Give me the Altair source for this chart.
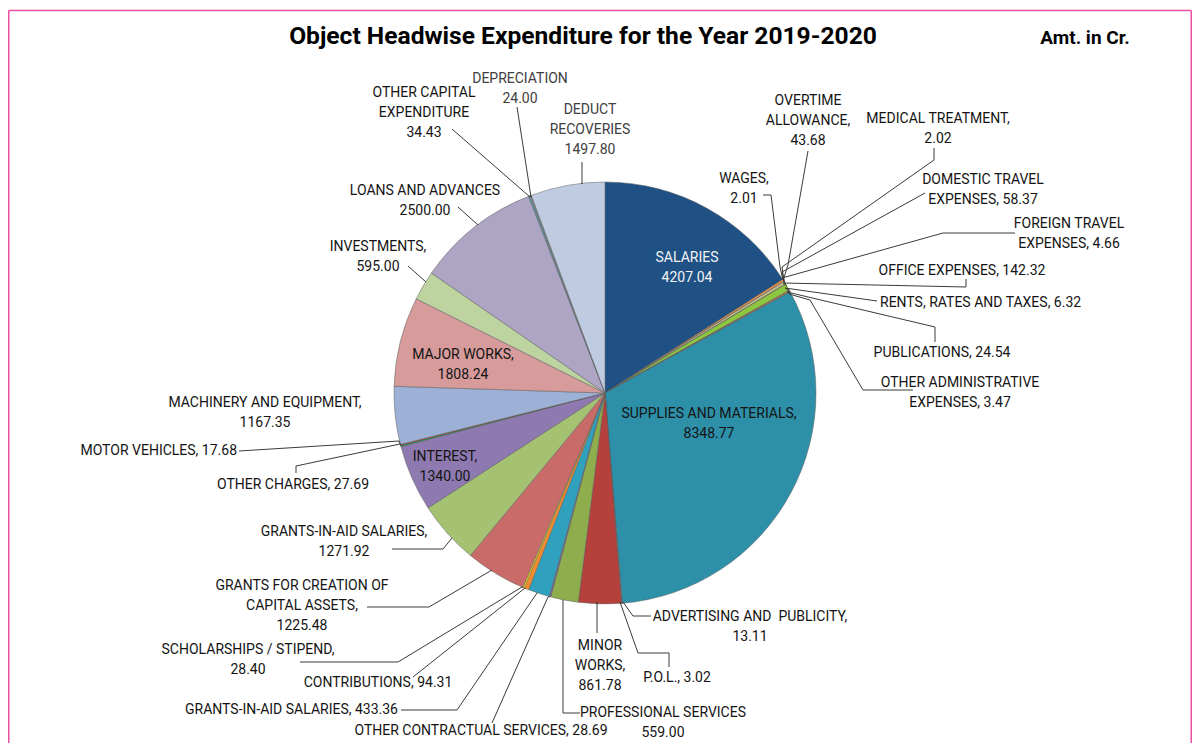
import altair as alt
import pandas as pd

# ---------------- data ----------------
categories = [
    "SALARIES", "WAGES", "OVERTIME ALLOWANCE", "MEDICAL TREATMENT",
    "DOMESTIC TRAVEL EXPENSES", "FOREIGN TRAVEL EXPENSES", "OFFICE EXPENSES",
    "RENTS, RATES AND TAXES", "PUBLICATIONS", "OTHER ADMINISTRATIVE EXPENSES",
    "SUPPLIES AND MATERIALS", "ADVERTISING AND PUBLICITY", "P.O.L.", "MINOR WORKS",
    "PROFESSIONAL SERVICES", "OTHER CONTRACTUAL SERVICES", "GRANTS-IN-AID SALARIES",
    "CONTRIBUTIONS", "SCHOLARSHIPS / STIPEND", "GRANTS FOR CREATION OF CAPITAL ASSETS",
    "GRANTS-IN-AID SALARIES", "INTEREST", "OTHER CHARGES", "MOTOR VEHICLES",
    "MACHINERY AND EQUIPMENT", "MAJOR WORKS", "INVESTMENTS", "LOANS AND ADVANCES",
    "OTHER CAPITAL EXPENDITURE", "DEPRECIATION", "DEDUCT RECOVERIES",
]
values = [
    4207.04, 2.01, 43.68, 2.02, 58.37, 4.66, 142.32, 6.32, 24.54, 3.47,
    8348.77, 13.11, 3.02, 861.78, 559.00, 28.69, 433.36, 94.31, 28.40, 1225.48,
    1271.92, 1340.00, 27.69, 17.68, 1167.35, 1808.24, 595.00, 2500.00, 34.43,
    24.00, 1497.80,
]
colors = [
    "#1F5185", "#D99694", "#F79646", "#A5A5A5", "#C3BE8A", "#7F7F3F", "#8DC63F",
    "#4F81BD", "#F0803C", "#BFBFBF", "#2D8FA8", "#F79646", "#1A1A1A", "#B5403C",
    "#8EAD4C", "#7C5FA4", "#2FA0BE", "#F28C30", "#FFFF00", "#C96B69", "#A5C272",
    "#8E7AB0", "#00A04A", "#FF0000", "#9CB1D5", "#D69B9A", "#BDD3A0", "#ADA5C3",
    "#5B9BAE", "#8C8C8C", "#BFCBE1",
]
label_templates = [
    ["SALARIES", "{v}"], ["WAGES,", "{v}"], ["OVERTIME", "ALLOWANCE,", "{v}"],
    ["MEDICAL TREATMENT,", "{v}"], ["DOMESTIC TRAVEL", "EXPENSES, {v}"],
    ["FOREIGN TRAVEL", "EXPENSES, {v}"], ["OFFICE EXPENSES, {v}"],
    ["RENTS, RATES AND TAXES, {v}"], ["PUBLICATIONS, {v}"],
    ["OTHER ADMINISTRATIVE", "EXPENSES, {v}"], ["SUPPLIES AND MATERIALS,", "{v}"],
    ["ADVERTISING AND\u00a0 PUBLICITY,", "{v}"], ["P.O.L., {v}"],
    ["MINOR", "WORKS,", "{v}"], ["PROFESSIONAL SERVICES", "{v}"],
    ["OTHER CONTRACTUAL SERVICES, {v}"], ["GRANTS-IN-AID SALARIES, {v}"],
    ["CONTRIBUTIONS, {v}"], ["SCHOLARSHIPS / STIPEND,", "{v}"],
    ["GRANTS FOR CREATION OF", "CAPITAL ASSETS,", "{v}"],
    ["GRANTS-IN-AID SALARIES,", "{v}"], ["INTEREST,", "{v}"],
    ["OTHER CHARGES, {v}"], ["MOTOR VEHICLES, {v}"],
    ["MACHINERY AND EQUIPMENT,", "{v}"], ["MAJOR WORKS,", "{v}"],
    ["INVESTMENTS,", "{v}"], ["LOANS AND ADVANCES", "{v}"],
    ["OTHER CAPITAL", "EXPENDITURE", "{v}"], ["DEPRECIATION", "{v}"],
    ["DEDUCT", "RECOVERIES", "{v}"],
]
title_text = "Object Headwise Expenditure for the Year 2019-2020"
unit_text = "Amt. in Cr."

# ---------------- layout (page pixels) ----------------
PAGE = 8
W, H = 1184, 735
CX, CY, R = 605 - PAGE, 393 - PAGE, 211
LINE_H = 20

# first-line centre of each label, alignment
label_pos = [
    (687, 258, "center"), (744, 179, "center"), (808, 101, "center"),
    (938, 119, "center"), (983, 180, "center"), (1069, 224, "center"),
    (962, 271, "center"), (880, 303, "left"), (942, 353, "center"),
    (960, 383, "center"), (709, 414, "center"), (750, 617, "center"),
    (677, 678, "center"), (600, 646, "center"), (663, 713, "center"),
    (481, 731, "center"), (398, 710, "right"), (378, 683, "center"),
    (248, 650, "center"), (302, 586, "center"), (344, 532, "center"),
    (445, 457, "center"), (293, 485, "center"), (237, 451, "right"),
    (265, 403, "center"), (463, 355, "center"), (378, 247, "center"),
    (425, 191, "center"), (424, 93, "center"), (520, 79, "center"),
    (590, 110, "center"),
]
label_colors = ["#F2F2F2"] + ["#141414"] * 28 + ["#404040", "#404040"]

# leader lines: points from the pie rim outwards (page pixels)
leaders = {
    1: [(780, 267), (771, 195), (763, 195)],
    2: [(788, 265), (808, 151)],
    3: [(782, 267), (934, 160), (934, 148)],
    4: [(782, 272), (925, 193)],
    5: [(782, 278), (943, 233), (1015, 233)],
    6: [(783, 283), (966, 287), (966, 279)],
    7: [(785, 288), (877, 301)],
    8: [(787, 292), (935, 327), (935, 342)],
    9: [(789, 294), (810, 300), (863, 390), (913, 390)],
    11: [(623, 602), (633, 616), (651, 616)],
    12: [(620, 602), (638, 653), (669, 653), (669, 667)],
    13: [(597, 602), (597, 633)],
    14: [(563, 600), (563, 713), (580, 713)],
    15: [(548, 597), (492, 723)],
    16: [(537, 593), (457, 710), (401, 710)],
    17: [(525, 588), (413, 677)],
    18: [(522, 587), (398, 662), (300, 662)],
    19: [(492, 570), (429, 607), (367, 607)],
    20: [(452, 538), (443, 549), (392, 549)],
    22: [(400, 444), (296, 466), (296, 473)],
    23: [(399, 441), (239, 451)],
    26: [(426, 282), (408, 266)],
    27: [(478, 225), (458, 207)],
    28: [(530, 197), (452, 129)],
    29: [(531, 197), (517, 107)],
    30: [(582, 184), (582, 162)],
}

# ---------------- tables ----------------
n = len(values)
slices = pd.DataFrame({
    "idx": list(range(n)),
    "category": categories,
    "value": values,
    "color": colors,
    "pax": [leaders[i][0][0] - PAGE if i in leaders else None for i in range(n)],
    "pay": [leaders[i][0][1] - PAGE if i in leaders else None for i in range(n)],
})

seg_rows = []
for i, pts in leaders.items():
    for a, b in zip(pts[:-1], pts[1:]):
        seg_rows.append({"x": a[0] - PAGE, "y": a[1] - PAGE,
                         "x2": b[0] - PAGE, "y2": b[1] - PAGE})
segments = pd.DataFrame(seg_rows)

text_rows = []
for i in range(n):
    x, y, align = label_pos[i]
    for k, t in enumerate(label_templates[i]):
        text_rows.append({"text": t.format(v=f"{values[i]:.2f}"),
                          "x": x - PAGE, "y": y - PAGE + k * LINE_H,
                          "align": align, "tcolor": label_colors[i]})
texts = pd.DataFrame(text_rows)

titles = pd.DataFrame([
    {"text": title_text, "x": 583 - PAGE, "y": 37 - PAGE, "size": 24.6},
    {"text": unit_text, "x": 1085 - PAGE, "y": 38 - PAGE, "size": 19},
])

border = pd.DataFrame([
    {"x": 0.75, "y": 2.5, "x2": 0.75, "y2": H},
    {"x": 0.75, "y": 2.5, "x2": W - 0.75, "y2": 2.5},
    {"x": W - 0.75, "y": 2.5, "x2": W - 0.75, "y2": H},
])

# ---------------- chart ----------------
FONT = "Roboto"

pie = alt.Chart(slices).mark_arc(
    outerRadius=R, stroke="#5f5f5f", strokeWidth=0.5
).encode(
    theta=alt.Theta("value:Q", stack=True),
    color=alt.Color("color:N", scale=None),
    order=alt.Order("idx:Q", sort="ascending"),
    x=alt.value(CX),
    y=alt.value(CY),
    tooltip=["category:N", "value:Q"],
)

rim = alt.Chart(slices).transform_joinaggregate(
    total="sum(value)"
).transform_window(
    cum="sum(value)", sort=[alt.SortField("idx", order="ascending")], frame=[None, 0]
).transform_filter(
    "isValid(datum.pax)"
).transform_calculate(
    a1="2*PI*datum.cum/datum.total",
    a0="2*PI*(datum.cum-datum.value)/datum.total",
).transform_calculate(
    m="min(0.3*(datum.a1-datum.a0), 0.02)",
    pa=f"atan2(datum.pax - {CX}, {CY} - datum.pay)",
).transform_calculate(
    pa2="datum.pa < 0 ? datum.pa + 2*PI : datum.pa",
).transform_calculate(
    ang="clamp(datum.pa2, datum.a0 + datum.m, datum.a1 - datum.m)",
).transform_calculate(
    rx=f"{CX} + {R}*sin(datum.ang)",
    ry=f"{CY} - {R}*cos(datum.ang)",
).mark_rule(color="#3a3a3a", strokeWidth=1).encode(
    x=alt.X("rx:Q", scale=None, axis=None),
    y=alt.Y("ry:Q", scale=None, axis=None),
    x2="pax:Q",
    y2="pay:Q",
)

lines = alt.Chart(segments).mark_rule(color="#3a3a3a", strokeWidth=1).encode(
    x=alt.X("x:Q", scale=None, axis=None),
    y=alt.Y("y:Q", scale=None, axis=None),
    x2="x2:Q",
    y2="y2:Q",
)

def text_layer(align):
    return alt.Chart(texts).transform_filter(
        alt.datum.align == align
    ).mark_text(font=FONT, fontSize=14, baseline="middle", align=align).encode(
        x=alt.X("x:Q", scale=None, axis=None),
        y=alt.Y("y:Q", scale=None, axis=None),
        text="text:N",
        color=alt.Color("tcolor:N", scale=None),
    )

title_layer = alt.Chart(titles).mark_text(
    font=FONT, fontWeight="bold", baseline="middle", align="center", color="#000000"
).encode(
    x=alt.X("x:Q", scale=None, axis=None),
    y=alt.Y("y:Q", scale=None, axis=None),
    text="text:N",
    size=alt.Size("size:Q", scale=None, legend=None),
)

border_layer = alt.Chart(border).mark_rule(color="#E8519F", strokeWidth=1.5).encode(
    x=alt.X("x:Q", scale=None, axis=None),
    y=alt.Y("y:Q", scale=None, axis=None),
    x2="x2:Q",
    y2="y2:Q",
)

chart = alt.layer(
    border_layer, pie, rim, lines,
    text_layer("center"), text_layer("left"), text_layer("right"),
    title_layer,
).properties(
    width=W, height=H,
    autosize=alt.AutoSizeParams(type="none"),
    padding=0,
    background="white",
).configure_view(strokeWidth=0)

chart.save("out.html", embed_options={"renderer": "svg", "actions": False})
